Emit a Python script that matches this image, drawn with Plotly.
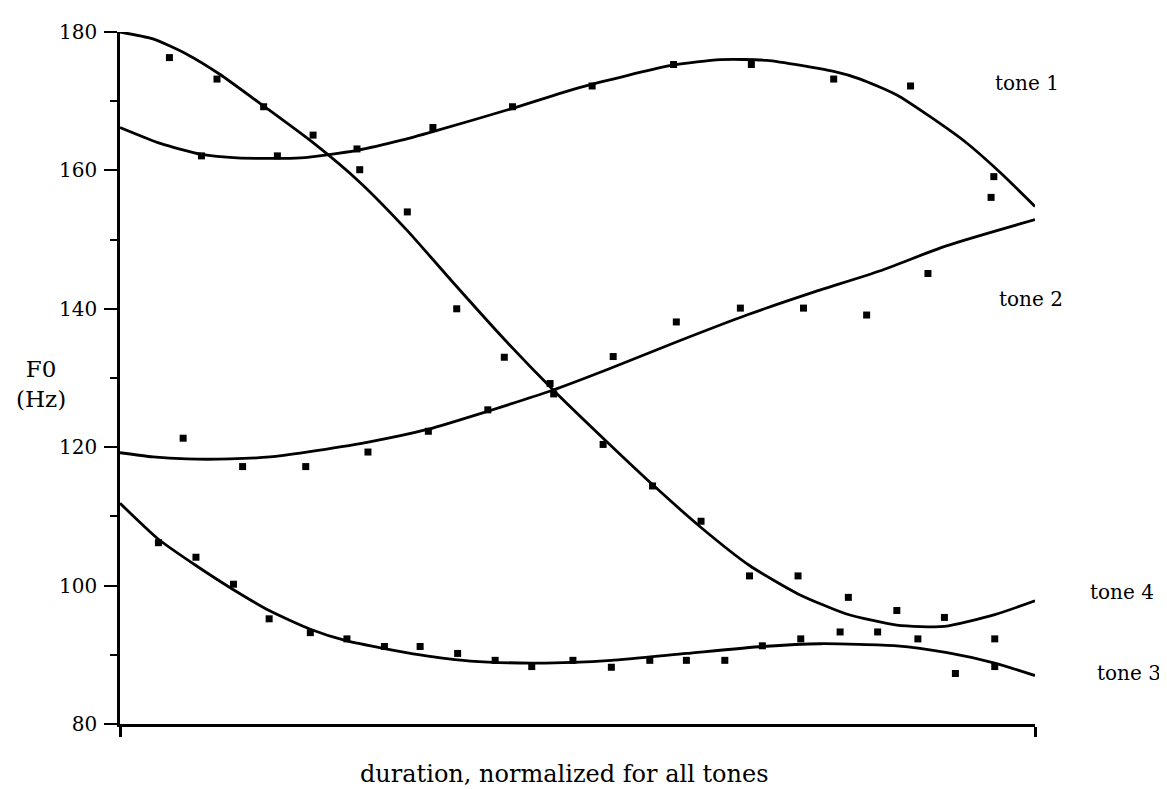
import plotly.graph_objects as go

# ---- data (normalized duration 0..1, F0 in Hz) ----
tone1_pts_x = [0.089, 0.172, 0.259, 0.342, 0.429, 0.516, 0.605, 0.690, 0.780, 0.864, 0.955]
tone1_pts_y = [162.1, 162.1, 163.1, 166.2, 169.2, 172.2, 175.3, 175.3, 173.2, 172.2, 159.1]
tone1_fit_x = [0.0, 0.044, 0.089, 0.128, 0.197, 0.259, 0.309, 0.342, 0.430, 0.503, 0.604, 0.656, 0.707,
               0.780, 0.809, 0.849, 0.885, 0.925, 0.962, 1.0]
tone1_fit_y = [166.2, 163.9, 162.3, 161.8, 161.8, 162.9, 164.4, 165.6, 169.0, 172.0, 175.2, 176.0, 175.9,
               174.3, 173.2, 170.9, 167.8, 164.0, 159.7, 154.8]

tone2_pts_x = [0.069, 0.134, 0.203, 0.271, 0.337, 0.402, 0.474, 0.539, 0.608, 0.678, 0.747, 0.816, 0.883, 0.952]
tone2_pts_y = [121.3, 117.2, 117.2, 119.3, 122.3, 125.4, 127.7, 133.1, 138.1, 140.1, 140.1, 139.1, 145.1, 156.1]
tone2_fit_x = [0.0, 0.036, 0.073, 0.120, 0.164, 0.204, 0.270, 0.337, 0.402, 0.474, 0.532, 0.608, 0.685, 0.758, 0.831, 0.903, 1.0]
tone2_fit_y = [119.2, 118.6, 118.3, 118.3, 118.6, 119.3, 120.7, 122.6, 125.2, 128.3, 131.2, 135.2, 139.1, 142.4, 145.5, 149.1, 152.9]

tone3_pts_x = [0.042, 0.083, 0.124, 0.163, 0.208, 0.248, 0.289, 0.328, 0.369, 0.410, 0.450, 0.495,
               0.537, 0.579, 0.619, 0.661, 0.702, 0.744, 0.787, 0.828, 0.872, 0.913, 0.956]
tone3_pts_y = [106.2, 104.1, 100.2, 95.2, 93.2, 92.3, 91.2, 91.2, 90.2, 89.2, 88.3, 89.2,
               88.2, 89.2, 89.2, 89.2, 91.3, 92.3, 93.3, 93.3, 92.3, 87.3, 88.3]
tone3_fit_x = [0.0, 0.042, 0.083, 0.124, 0.163, 0.208, 0.248, 0.289, 0.328, 0.383, 0.450, 0.495, 0.537, 0.619, 0.702, 0.765, 0.849, 0.904, 0.956, 1.0]
tone3_fit_y = [111.9, 106.7, 102.9, 99.4, 96.4, 93.7, 92.0, 90.9, 90.0, 89.1, 88.8, 88.9, 89.2, 90.2, 91.2, 91.6, 91.3, 90.3, 88.8, 87.0]

tone4_pts_x = [0.054, 0.106, 0.157, 0.211, 0.262, 0.314, 0.368, 0.420, 0.470, 0.528, 0.582, 0.635,
               0.688, 0.741, 0.796, 0.849, 0.901, 0.956]
tone4_pts_y = [176.3, 173.2, 169.2, 165.1, 160.1, 154.0, 140.0, 133.0, 129.2, 120.4, 114.4, 109.3,
               101.4, 101.4, 98.3, 96.4, 95.4, 92.3]
tone4_fit_x = [0.0, 0.036, 0.073, 0.109, 0.157, 0.211, 0.262, 0.314, 0.364, 0.420, 0.474,
               0.528, 0.582, 0.635, 0.688, 0.741, 0.794, 0.849, 0.901, 0.956, 1.0]
tone4_fit_y = [180.0, 179.0, 176.8, 173.9, 169.3, 164.0, 158.3, 151.3, 143.8, 135.6, 128.2,
               121.3, 114.6, 108.4, 102.9, 98.8, 95.9, 94.3, 94.1, 95.8, 97.8]

y_tickvals = [80, 100, 120, 140, 160, 180]
y_ticktext = ["80", "100", "120", "140", "160", "180"]

tone_labels = ["tone 1", "tone 2", "tone 4", "tone 3"]
x_title = "duration, normalized for all tones"
y_title = "F0<br>(Hz)"

FONT = "DejaVu Serif"

fig = go.Figure()
for fx, fy, px, py in [
    (tone1_fit_x, tone1_fit_y, tone1_pts_x, tone1_pts_y),
    (tone2_fit_x, tone2_fit_y, tone2_pts_x, tone2_pts_y),
    (tone3_fit_x, tone3_fit_y, tone3_pts_x, tone3_pts_y),
    (tone4_fit_x, tone4_fit_y, tone4_pts_x, tone4_pts_y),
]:
    fig.add_trace(go.Scatter(x=fx, y=fy, mode="lines",
                             line=dict(color="black", width=2.8, shape="spline", smoothing=0.6),
                             cliponaxis=False, showlegend=False, hoverinfo="skip"))
    fig.add_trace(go.Scatter(x=px, y=py, mode="markers",
                             marker=dict(symbol="square", size=7, color="black"),
                             cliponaxis=False, showlegend=False, hoverinfo="skip"))

# page body has an 8px margin, so the figure is offset by 8px
fig.update_layout(
    width=1159, height=781,
    margin=dict(l=112, r=132, t=20, b=64.6),
    paper_bgcolor="white", plot_bgcolor="white",
    showlegend=False,
    font=dict(family=FONT, color="black", size=19),
    xaxis=dict(range=[0, 1], showgrid=False, zeroline=False,
               showline=True, linecolor="black", linewidth=2.5,
               ticks="outside", tickvals=[0, 1], ticklen=10, tickwidth=2.5, tickcolor="black",
               showticklabels=False),
    yaxis=dict(range=[80, 180], showgrid=False, zeroline=False,
               showline=True, linecolor="black", linewidth=2.5,
               ticks="outside", tickvals=y_tickvals, ticktext=y_ticktext,
               ticklen=13, tickwidth=2, tickcolor="black",
               ticklabelstandoff=3,
               tickfont=dict(family=FONT, size=20, color="black"),
               minor=dict(dtick=10, tick0=80, ticks="outside", ticklen=7, tickwidth=2, tickcolor="black")),
)

# y-axis title (horizontal)
fig.add_annotation(text=y_title, xref="paper", yref="y", x=-0.0863, y=129.2,
                   xanchor="center", yanchor="middle", showarrow=False,
                   font=dict(family=FONT, size=23, color="black"))
# x-axis title
fig.add_annotation(text=x_title, xref="paper", yref="paper", x=0.486, y=-0.072,
                   xanchor="center", yanchor="middle", showarrow=False,
                   font=dict(family=FONT, size=24, color="black"))

# tone labels
label_pos = [(0.954, 172.6), (0.958, 141.4), (1.058, 99.1), (1.066, 87.4)]
for txt, (lx, ly) in zip(tone_labels, label_pos):
    fig.add_annotation(text=txt, xref="paper", yref="y", x=lx, y=ly,
                       xanchor="left", yanchor="middle", showarrow=False,
                       font=dict(family=FONT, size=20, color="black"))

fig.write_html("out.html")
